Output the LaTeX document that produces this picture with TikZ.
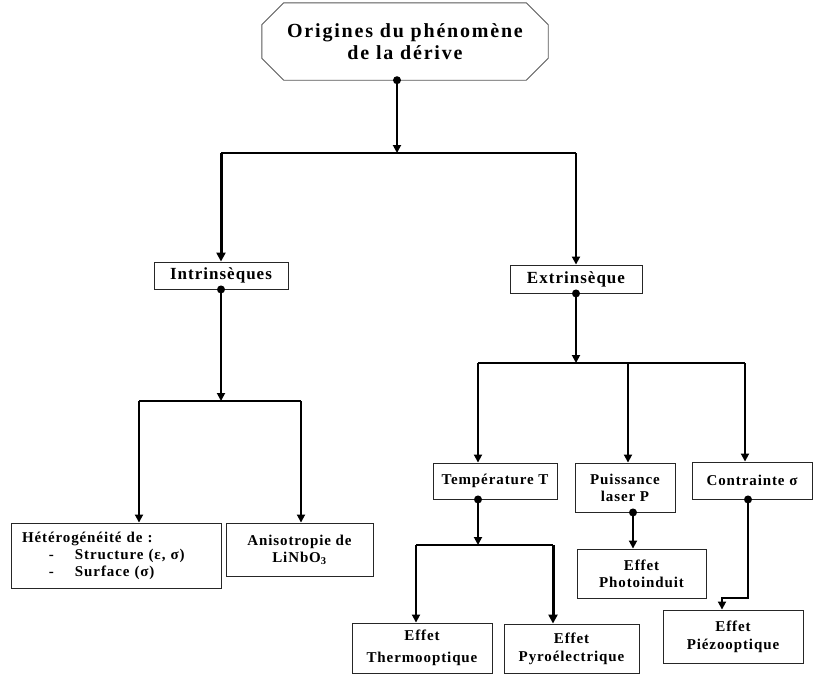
\documentclass[tikz,border=0pt]{standalone}
\usepackage{fontspec}
\setmainfont{Liberation Serif}
\newfontfamily\titlefont[LetterSpace=9]{Liberation Serif}
\newfontfamily\lsfont[LetterSpace=6]{Liberation Serif}
\usetikzlibrary{arrows.meta}
\begin{document}
\begin{tikzpicture}[x=1pt,y=-1pt,
  box/.style={draw=black!85, line width=0.9pt, inner sep=0pt, align=center,
    font=\lsfont\bfseries\fontsize{15}{17}\selectfont},
  boxone/.style={box, font=\lsfont\bfseries\fontsize{17}{19}\selectfont},
  titlebox/.style={draw=none, inner sep=0pt, align=center,
    font=\titlefont\bfseries\fontsize{20}{22}\selectfont},
  octo/.style={draw=black!65, line width=0.9pt},
  arr/.style={line width=1.8pt, -{Triangle[width=8pt,length=8pt]}},
  thickarr/.style={line width=3pt, -{Triangle[width=9pt,length=9pt]}},
  hline/.style={line width=1.2pt},
  dot/.style={fill=black}
]
\path[fill=white, use as bounding box] (0,0) rectangle (815,675);

% nodes
\node[titlebox, minimum width=286, minimum height=77] (title) at (405,41.5) {Origines du phénomène\\de la dérive};
\draw[octo] ([xshift=22pt]title.north west) -- ([xshift=-22pt]title.north east)
  -- ([yshift=-22pt]title.north east) -- ([yshift=22pt]title.south east)
  -- ([xshift=-22pt]title.south east) -- ([xshift=22pt]title.south west)
  -- ([yshift=22pt]title.south west) -- ([yshift=-22pt]title.north west) -- cycle;

\node[boxone, minimum width=134, minimum height=27] (intr) at (221,275.5) {Intrinsèques};
\node[boxone, minimum width=132, minimum height=28] (extr) at (576,279) {Extrinsèque};

\node[box, minimum width=210, minimum height=65, text width=188pt, align=left] (het) at (116,555.5)
  {Hétérogénéité de :\\\makebox[53pt][l]{\hspace*{27pt}-}Structure (ε, σ)\\\makebox[53pt][l]{\hspace*{27pt}-}Surface (σ)};
\node[box, minimum width=147, minimum height=53] (aniso) at (299.5,549.5) {Anisotropie de\\LiNbO\textsubscript{3}};

\node[box, minimum width=124, minimum height=36] (temp) at (495,481) {Température T};
\node[box, minimum width=100, minimum height=49] (puis) at (625,487.5) {Puissance\\laser P};
\node[box, minimum width=120, minimum height=37] (contr) at (752,480.5) {Contrainte σ};

\node[box, minimum width=140, minimum height=50, font=\lsfont\bfseries\fontsize{15}{22}\selectfont] (thermo) at (422,648) {Effet\\Thermooptique};
\node[box, minimum width=135, minimum height=49, font=\lsfont\bfseries\fontsize{15}{18}\selectfont] (pyro) at (571.5,648.5) {Effet\\Pyroélectrique};
\node[box, minimum width=129, minimum height=49] (photo) at (641.5,573.5) {Effet\\Photoinduit};
\node[box, minimum width=140, minimum height=53, font=\lsfont\bfseries\fontsize{15}{18}\selectfont] (piezo) at (733,636.5) {Effet\\Piézooptique};

% level 0 -> 1
\coordinate (h0) at (397,153);
\fill[dot] (title.south -| h0) circle (4pt);
\draw[arr] (title.south -| h0) -- (h0);
\draw[hline] (h0 -| intr.north) -- (h0 -| extr.north);
\draw[thickarr] (h0 -| intr.north) -- (intr.north);
\draw[arr] (h0 -| extr.north) -- (extr.north);

% intrinseques
\coordinate (h1) at (221,401);
\coordinate (a1) at (139,401);
\coordinate (a2) at (301,401);
\fill[dot] (intr.south) circle (4pt);
\draw[arr] (intr.south) -- (h1);
\draw[hline] (a1) -- (a2);
\draw[arr] (a1) -- (a1 |- het.north);
\draw[arr] (a2) -- (a2 |- aniso.north);

% extrinseque
\coordinate (h2) at (576,363);
\coordinate (b1) at (478,363);
\coordinate (b2) at (628,363);
\coordinate (b3) at (745,363);
\fill[dot] (extr.south) circle (4pt);
\draw[arr] (extr.south) -- (h2);
\draw[hline] (b1) -- (b3);
\draw[arr] (b1) -- (b1 |- temp.north);
\draw[arr] (b2) -- (b2 |- puis.north);
\draw[arr] (b3) -- (b3 |- contr.north);

% temperature
\coordinate (h3) at (478,545);
\coordinate (c1) at (416,545);
\coordinate (c2) at (553,545);
\fill[dot] (temp.south -| h3) circle (4pt);
\draw[arr] (temp.south -| h3) -- (h3);
\draw[hline] (c1) -- (c2);
\draw[arr] (c1) -- (c1 |- thermo.north);
\draw[thickarr] (c2) -- (c2 |- pyro.north);

% puissance
\coordinate (p1) at (633,512);
\fill[dot] (puis.south -| p1) circle (4pt);
\draw[arr] (puis.south -| p1) -- (p1 |- photo.north);

% contrainte
\coordinate (k0) at (748,499);
\coordinate (k2) at (722,598);
\fill[dot] (contr.south -| k0) circle (4pt);
\draw[arr] (contr.south -| k0) |- (k2) -- (k2 |- piezo.north);
\end{tikzpicture}
\end{document}
